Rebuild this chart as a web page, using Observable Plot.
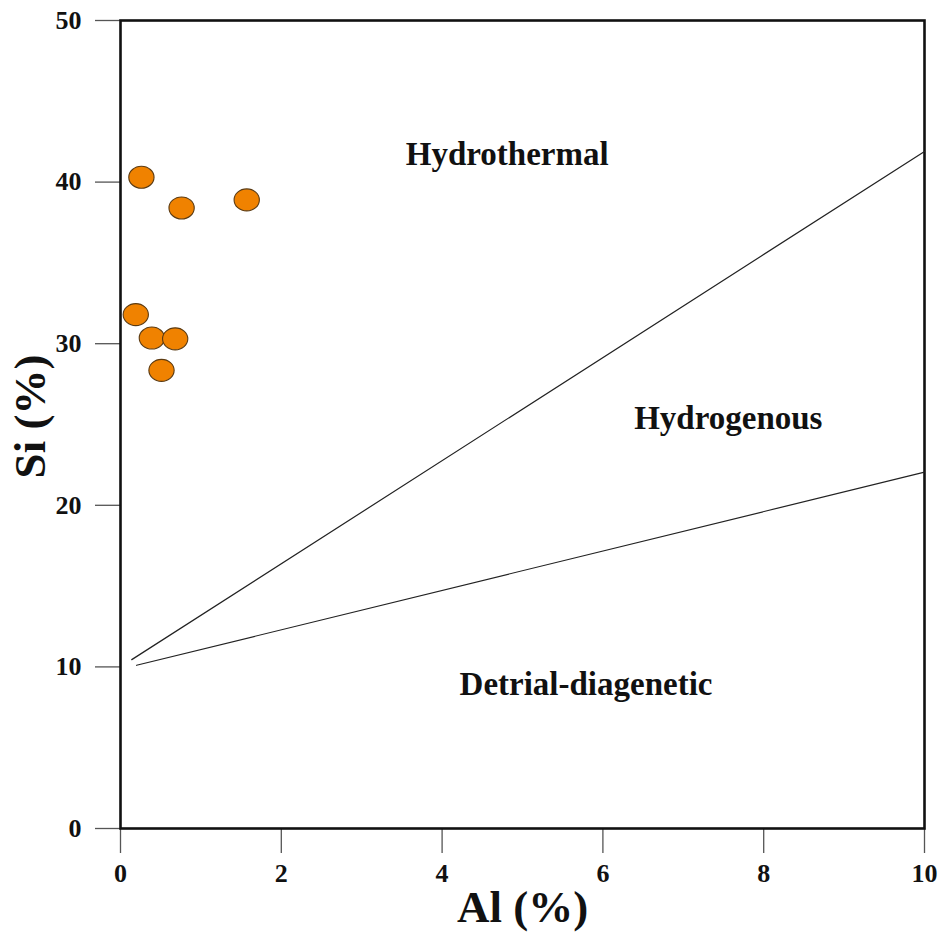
<!DOCTYPE html>
<html>
<head>
<meta charset="utf-8">
<script src="https://cdn.jsdelivr.net/npm/d3@7"></script>
<script src="https://cdn.jsdelivr.net/npm/@observablehq/plot@0.6"></script>
<style>
  html, body { margin: 0; padding: 0; background: #fff; }
  #chart svg { display: block; }
  #chart g[aria-label="x-axis tick"], #chart g[aria-label="y-axis tick"] { stroke: #555; stroke-width: 1.3px; }
</style>
</head>
<body>
<div id="chart"></div>
<script>
// Sample points: Al (%) and Si (%)
const alValues = [0.26, 0.76, 1.57, 0.19, 0.39, 0.68, 0.51];
const siValues = [40.3, 38.4, 38.9, 31.8, 30.35, 30.3, 28.35];

// Discrimination boundaries
const upperLineAl = [0.14, 10];
const upperLineSi = [10.45, 41.9];
const lowerLineAl = [0.2, 10];
const lowerLineSi = [10.1, 22.05];

// Field labels
const fieldNames = ["Hydrothermal", "Hydrogenous", "Detrial-diagenetic"];
const fieldAl = [4.81, 7.56, 5.79];
const fieldSi = [41.7, 25.4, 8.9];

// Ticks
const xTicks = [0, 2, 4, 6, 8, 10];
const yTicks = [0, 10, 20, 30, 40, 50];

const points = alValues.map((a, i) => ({al: a, si: siValues[i]}));
const upper = upperLineAl.map((a, i) => ({al: a, si: upperLineSi[i]}));
const lower = lowerLineAl.map((a, i) => ({al: a, si: lowerLineSi[i]}));
const fields = fieldNames.map((n, i) => ({name: n, al: fieldAl[i], si: fieldSi[i]}));

// Elliptical dot symbol (slightly wider than tall)
const ellipse = {
  draw(context, size) {
    const r = Math.sqrt(size / Math.PI);
    const rx = r * 1.08, ry = r * 0.94, k = 0.5523;
    context.moveTo(rx, 0);
    context.bezierCurveTo(rx, ry * k, rx * k, ry, 0, ry);
    context.bezierCurveTo(-rx * k, ry, -rx, ry * k, -rx, 0);
    context.bezierCurveTo(-rx, -ry * k, -rx * k, -ry, 0, -ry);
    context.bezierCurveTo(rx * k, -ry, rx, -ry * k, rx, 0);
    context.closePath();
  }
};

const chart = Plot.plot({
  width: 943,
  height: 935,
  marginLeft: 120,
  marginRight: 19,
  marginTop: 20,
  marginBottom: 107,
  style: {
    fontFamily: "'Liberation Serif', 'Times New Roman', serif",
    fontWeight: "bold",
    color: "#111",
    background: "#fff"
  },
  x: {domain: [0, 10]},
  y: {domain: [0, 50]},
  marks: [
    Plot.axisX({ticks: xTicks, tickSize: 25, tickPadding: 10, fontSize: 26, label: null}),
    Plot.axisY({ticks: yTicks, tickSize: 25, tickPadding: 14, fontSize: 26, label: null}),
    Plot.frame({stroke: "#111", strokeWidth: 2.6}),
    Plot.line(upper, {x: "al", y: "si", stroke: "#222", strokeWidth: 1.2}),
    Plot.line(lower, {x: "al", y: "si", stroke: "#222", strokeWidth: 1.2}),
    Plot.dot(points, {x: "al", y: "si", r: 11.7, symbol: ellipse, fill: "#F08200", stroke: "#5a3a12", strokeWidth: 1.1}),
    Plot.text(fields, {x: "al", y: "si", text: "name", fontSize: 33, fontWeight: "bold", fill: "#111"}),
    Plot.text(["Al (%)"], {frameAnchor: "bottom", dy: 93, fontSize: 45, fontWeight: "bold", fill: "#111"}),
    Plot.text(["Si (%)"], {frameAnchor: "left", textAnchor: "middle", dx: -90, dy: -8, rotate: -90, fontSize: 45, fontWeight: "bold", fill: "#111"})
  ]
});

document.getElementById("chart").appendChild(chart);
</script>
</body>
</html>
